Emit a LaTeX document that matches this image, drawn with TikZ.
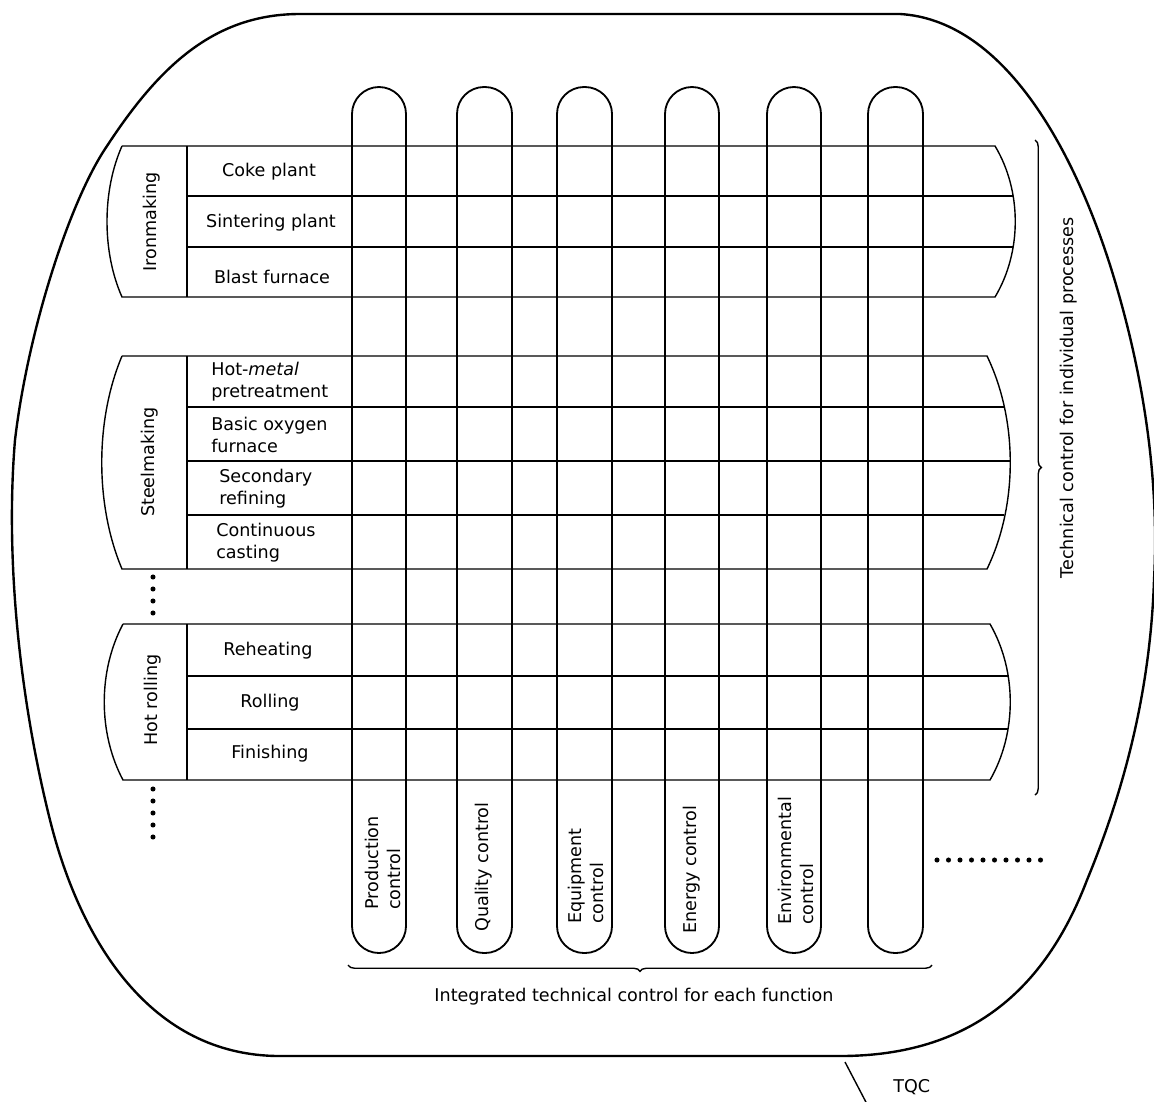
\documentclass[tikz,border=0pt]{standalone}
\usepackage{fontspec}
\setmainfont{DejaVu Sans}
\usetikzlibrary{decorations.pathreplacing}

\begin{document}
\begin{tikzpicture}[x=0.025cm, y=-0.025cm,
    every node/.style={font=\fontsize{12.5}{15.6}\selectfont, inner sep=0pt},
    outline/.style={line width=1.7pt, line join=round},
    grid/.style={line width=1pt},
    capsule/.style={line width=1.3pt, rounded corners=0.675cm},
    cbrace/.style={line width=1pt, decorate, decoration={brace, amplitude=0.16cm}},
    rowtext/.style={align=center},
    steptext/.style={align=left, anchor=west},
    coltext/.style={align=left, anchor=west, rotate=90},
    dotmark/.style={fill=black}]

  \useasboundingbox (0,0) rectangle (1154,1101);

  % TQC outline
  \draw[outline] (300,14) -- (900,14)
    .. controls (1000,20) and (1070,140) .. (1110,265)
    .. controls (1140,360) and (1160,470) .. (1154,580)
    .. controls (1150,700) and (1120,800) .. (1087,880)
    .. controls (1045,990) and (970,1056) .. (840,1056)
    -- (280,1056)
    .. controls (150,1056) and (80,940) .. (50,820)
    .. controls (20,700) and (5,560) .. (15,440)
    .. controls (28,330) and (70,200) .. (107,146)
    .. controls (160,65) and (215,14) .. (300,14) -- cycle;

  % Ironmaking block
  \draw[grid] (122,146) -- (995,146) .. controls (1022,191) and (1022,252) .. (995,297)
    -- (122,297) .. controls (102,252) and (102,191) .. (122,146);
  \draw[grid] (187,146) -- (187,297);
  \foreach \y in {196,247}
    \draw[grid] (187,\y) -- (1013,\y);

  % Steelmaking block
  \draw[grid] (122,356) -- (987,356) .. controls (1018,420) and (1018,505) .. (987,569)
    -- (122,569) .. controls (95,505) and (95,420) .. (122,356);
  \draw[grid] (187,356) -- (187,569);
  \draw[grid] (187,407) -- (1004,407);
  \draw[grid] (187,461) -- (1010,461);
  \draw[grid] (187,515) -- (1004,515);

  % Hot rolling block
  \draw[grid] (123,624) -- (990,624) .. controls (1017,671) and (1017,733) .. (990,780)
    -- (123,780) .. controls (98,733) and (98,671) .. (123,624);
  \draw[grid] (187,624) -- (187,780);
  \foreach \y in {676,729}
    \draw[grid] (187,\y) -- (1008,\y);

  % Function columns
  \foreach \xl/\xr in {352/406, 457/512, 557/612, 665/719, 767/821, 868/923}
    \draw[capsule] (\xl,87) rectangle (\xr,953);

  % Process labels
  \node[rotate=90] (iron) at (152,222) {Ironmaking};
  \node[rotate=90] (steel) at (150,462) {Steelmaking};
  \node[rotate=90] (hot) at (153,700) {Hot rolling};

  \node[rowtext] (coke) at (269,172) {Coke plant};
  \node[rowtext] (sinter) at (271,223) {Sintering plant};
  \node[rowtext] (blast) at (272,277) {Blast furnace};

  \node[steptext] (hmp) at (211,382) {Hot-\textit{metal}\\pretreatment};
  \node[steptext] (bof) at (211,435) {Basic oxygen\\furnace};
  \node[steptext] (sec) at (219,489) {Secondary\\refining};
  \node[steptext] (cc) at (216,543) {Continuous\\casting};

  \node[rowtext] (reheat) at (268,651) {Reheating};
  \node[rowtext] (roll) at (270,703) {Rolling};
  \node[rowtext] (finish) at (270,754) {Finishing};

  % Function labels
  \node[coltext] (prod) at (383,910) {Production\\control};
  \node[coltext] (qual) at (484,932) {Quality control};
  \node[coltext] (equip) at (586,924) {Equipment\\control};
  \node[coltext] (energy) at (692,934) {Energy control};
  \node[coltext] (env) at (796,925) {Environmental\\control};

  % Continuation dots
  \foreach \y in {577,589,601,613}
    \fill[dotmark] (153,\y) circle (1.8pt);
  \foreach \y in {789,801,813,825,837}
    \fill[dotmark] (153,\y) circle (1.8pt);
  \foreach \i in {0,...,9}
    \fill[dotmark] (937+11.5*\i,860) circle (1.8pt);

  % Braces
  \draw[cbrace] (1035,140) -- (1035,795);
  \node[rotate=90] (proc) at (1069,398) {Technical control for individual processes};
  \draw[cbrace, decoration={mirror}] (348,965) -- (932,965);
  \node (func) at (634,997) {Integrated technical control for each function};

  % TQC pointer
  \coordinate (tqctop) at (845,1062);
  \coordinate (tqcend) at (868,1106);
  \node[anchor=west] (tqc) at (893,1087) {TQC};
  \draw[line width=1pt] (tqctop) -- (tqcend);
\end{tikzpicture}
\end{document}
